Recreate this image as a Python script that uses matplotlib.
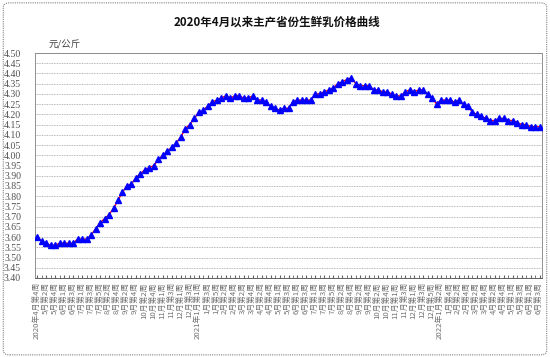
import matplotlib
matplotlib.use("Agg")
import matplotlib.pyplot as plt
from matplotlib.patches import FancyBboxPatch

plt.rcParams['font.family'] = ['Noto Sans CJK SC', 'DejaVu Sans']

# weekly price, yuan/kg
prices = [
    3.60, 3.58, 3.57, 3.56, 3.56, 3.57, 3.57, 3.57, 3.57, 3.59,
    3.59, 3.59, 3.61, 3.64, 3.67, 3.69, 3.71, 3.74, 3.78, 3.82,
    3.85, 3.86, 3.89, 3.91, 3.93, 3.94, 3.95, 3.98, 4.00, 4.02,
    4.04, 4.06, 4.09, 4.13, 4.15, 4.18, 4.21, 4.22, 4.24, 4.26,
    4.27, 4.28, 4.29, 4.28, 4.29, 4.29, 4.28, 4.28, 4.29, 4.27,
    4.27, 4.26, 4.24, 4.23, 4.22, 4.23, 4.23, 4.26, 4.27, 4.27,
    4.27, 4.27, 4.30, 4.30, 4.31, 4.32, 4.33, 4.35, 4.36, 4.37,
    4.38, 4.35, 4.34, 4.34, 4.34, 4.32, 4.32, 4.31, 4.31, 4.30,
    4.29, 4.29, 4.31, 4.32, 4.31, 4.32, 4.32, 4.30, 4.28, 4.25,
    4.27, 4.27, 4.27, 4.26, 4.27, 4.25, 4.24, 4.21, 4.20, 4.19,
    4.18, 4.17, 4.17, 4.18, 4.18, 4.17, 4.17, 4.16, 4.15, 4.15,
    4.14, 4.14, 4.14,
]

# (year, month, first week, last week) covered by the series
month_weeks = [
    (2020, 4, 4, 4), (2020, 5, 1, 5), (2020, 6, 1, 4), (2020, 7, 1, 5),
    (2020, 8, 1, 4), (2020, 9, 1, 4), (2020, 10, 1, 5), (2020, 11, 1, 4),
    (2020, 12, 1, 4),
    (2021, 1, 1, 5), (2021, 2, 1, 4), (2021, 3, 1, 4), (2021, 4, 1, 5),
    (2021, 5, 1, 4), (2021, 6, 1, 4), (2021, 7, 1, 5), (2021, 8, 1, 4),
    (2021, 9, 1, 4), (2021, 10, 1, 5), (2021, 11, 1, 4), (2021, 12, 1, 5),
    (2022, 1, 1, 4), (2022, 2, 1, 4), (2022, 3, 1, 4), (2022, 4, 1, 5),
    (2022, 5, 1, 4), (2022, 6, 1, 3),
]

weeks = [(y, m, w) for y, m, w0, w1 in month_weeks for w in range(w0, w1 + 1)]

# the axis labels every other week; year shown on the first label of a year
tick_pos = list(range(0, len(weeks), 2))
tick_labels = []
last_year = None
for i in tick_pos:
    y, m, w = weeks[i]
    tick_labels.append(f"{y}年{m}月第{w}周" if y != last_year else f"{m}月第{w}周")
    last_year = y

yticks = [3.40 + 0.05 * i for i in range(23)]

fig = plt.figure(figsize=(5.5, 3.57), dpi=100)
fig.patches.append(FancyBboxPatch((0.006, 0.006), 0.988, 0.986,
                                  boxstyle="round,pad=0,rounding_size=0.012",
                                  transform=fig.transFigure, fill=False,
                                  ec="#808080", lw=0.8, ls=(0, (1, 1))))

ax = fig.add_axes([0.0636, 0.2213, 0.9219, 0.6302])
x = range(len(prices))
ax.plot(x, prices, color="red", lw=1.0, zorder=2)
ax.plot(x, prices, ls="none", marker="^", ms=4.6, color="#0000FF",
        mec="#0000FF", zorder=3)

ax.set_xlim(-0.5, len(prices) - 0.5)
ax.set_ylim(3.40, 4.50)
ax.set_yticks(yticks)
ax.set_yticklabels([f"{v:.2f}" for v in yticks], fontsize=7,
                   family="Liberation Serif", color="#505050")
ax.yaxis.set_tick_params(length=0, pad=10)
ax.set_xticks(tick_pos)
ax.set_xticks(list(x), minor=True)
ax.set_xticklabels(tick_labels, rotation=90, fontsize=5.6, color="#707070",
                   va="top", ha="center")
ax.xaxis.set_tick_params(which="both", length=2, direction="in",
                         color="#606060", pad=3)
ax.grid(axis="y", color="#a0a0a0", lw=0.6, ls=(0, (1, 1)))
for side in ["top", "right", "left"]:
    ax.spines[side].set_color("#808080")
    ax.spines[side].set_linewidth(0.6)
    ax.spines[side].set_linestyle((0, (1, 1)))
ax.spines["bottom"].set_color("#606060")
ax.spines["bottom"].set_linewidth(0.7)

fig.text(0.503, 0.938, "2020年4月以来主产省份生鲜乳价格曲线", ha="center",
         va="center", fontsize=8.3, fontweight="bold", color="#111111")
fig.text(0.118, 0.874, "元/公斤", ha="center", va="center", fontsize=6.8,
         color="#404040")

fig.savefig("out.png", dpi=100)
